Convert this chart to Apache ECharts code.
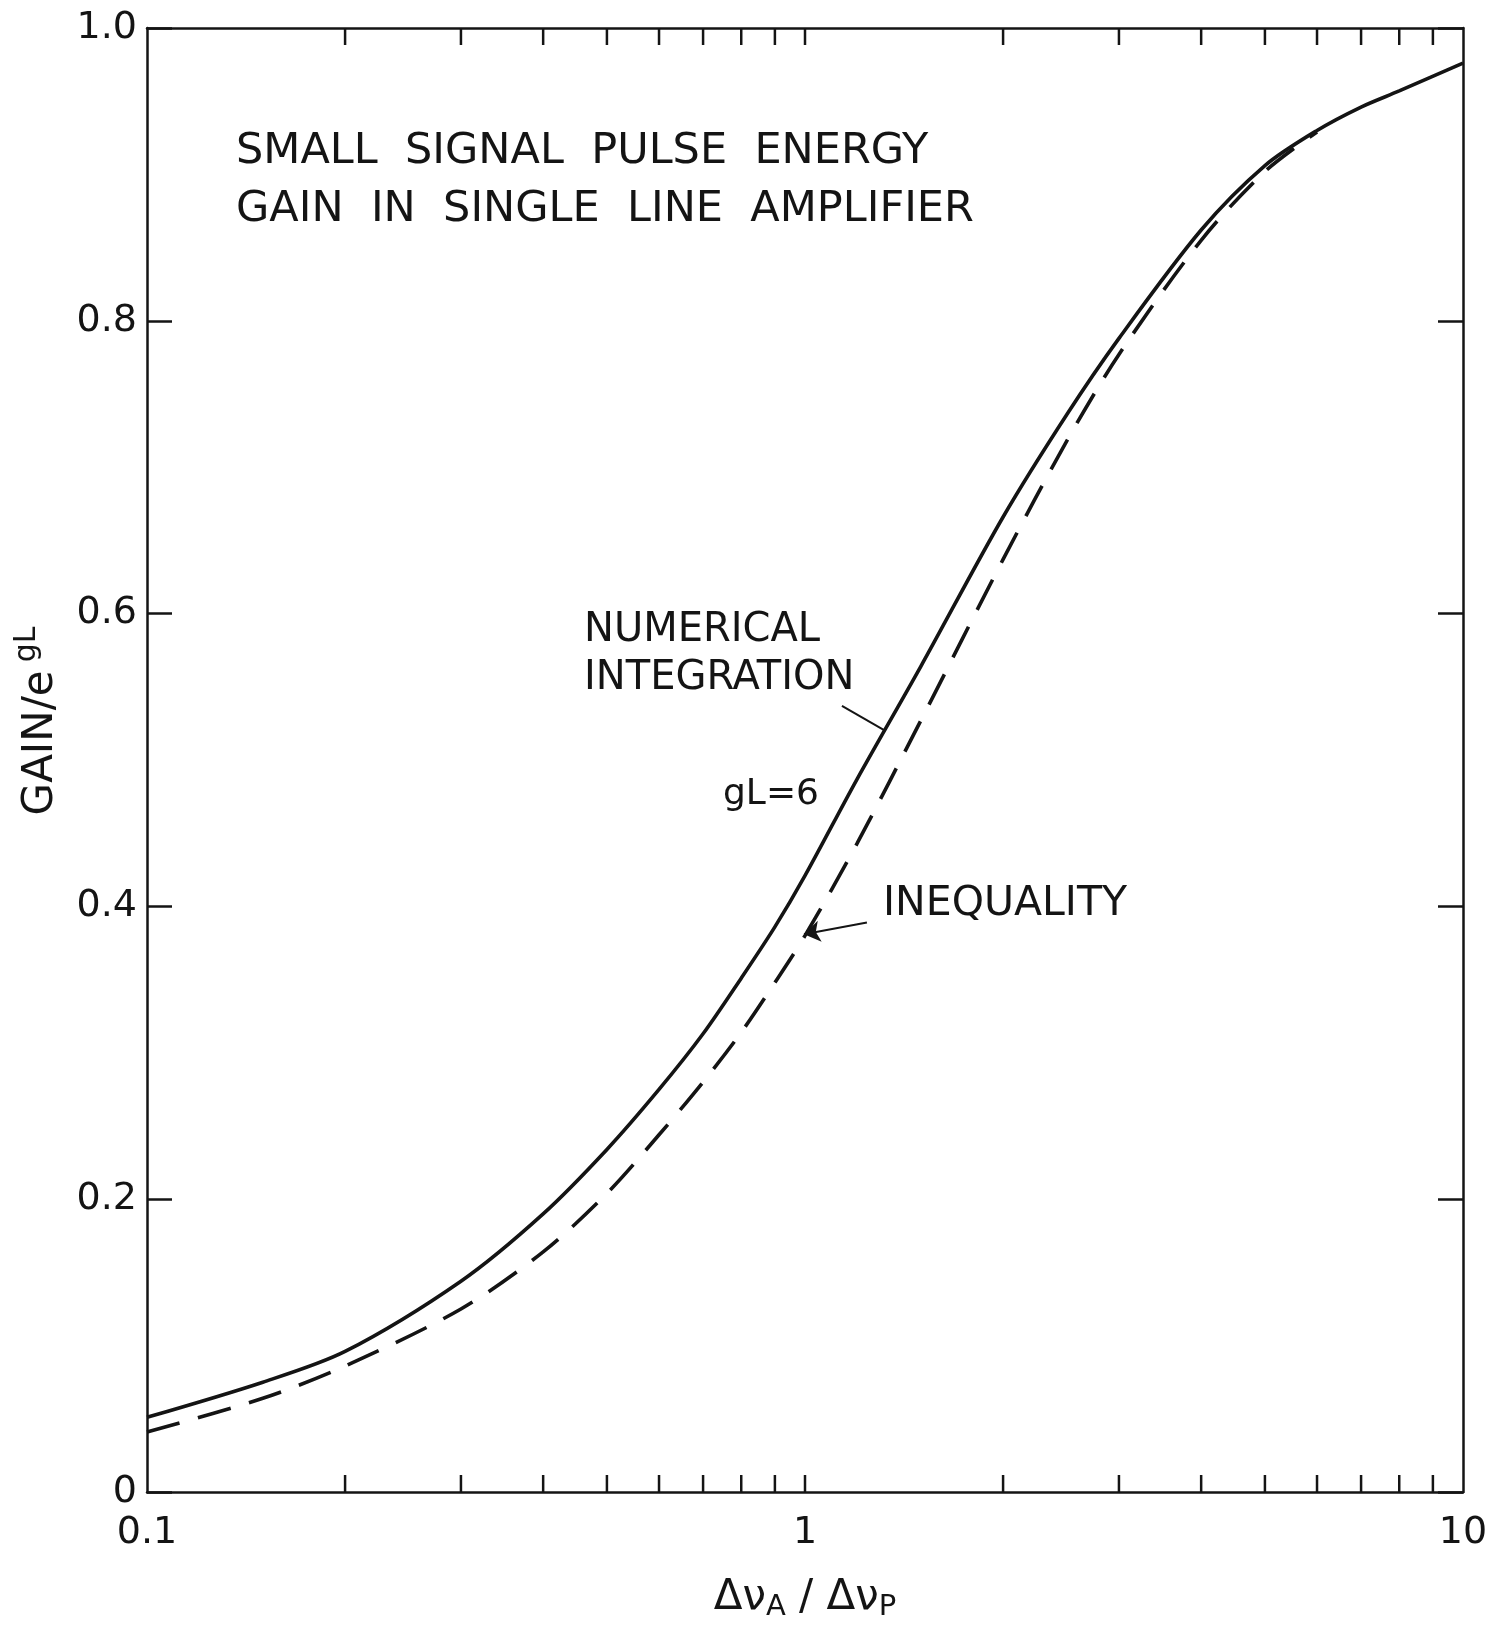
<!DOCTYPE html>
<html>
<head>
<meta charset="utf-8">
<script src="https://cdn.jsdelivr.net/npm/echarts@6/dist/echarts.min.js"></script>
<style>
  html, body { margin: 0; padding: 0; background: #ffffff; }
  #chart { width: 1495px; height: 1626px; }
</style>
</head>
<body>
<div id="chart"></div>
<script>
// Bandwidth ratio Δν_A/Δν_P (log scale)
const ratioX = [0.1, 0.15, 0.2, 0.3, 0.4, 0.5, 0.6, 0.7, 0.8, 0.9, 1.0, 1.2, 1.5, 2.0, 2.5, 3.0, 4.0, 5.0, 6.0, 7.0, 8.0, 10.0];
// GAIN / e^gL from numerical integration, gL = 6
const numericalGain = [0.051, 0.075, 0.096, 0.144, 0.190, 0.234, 0.275, 0.313, 0.351, 0.386, 0.421, 0.487, 0.564, 0.666, 0.736, 0.788, 0.862, 0.906, 0.930, 0.946, 0.957, 0.976];
// GAIN / e^gL from the inequality bound
const inequalityX = [0.1, 0.15, 0.2, 0.3, 0.4, 0.5, 0.6, 0.7, 0.8, 0.9, 1.0, 1.2, 1.5, 2.0, 2.5, 3.0, 4.0, 5.0, 6.0];
const inequalityGain = [0.041, 0.064, 0.086, 0.125, 0.164, 0.204, 0.244, 0.280, 0.314, 0.348, 0.380, 0.443, 0.527, 0.637, 0.718, 0.777, 0.855, 0.902, 0.929];

// Axis ticks and labels
const xMajorTicks = [0.1, 1, 10];
const xMinorTicks = [0.2, 0.3, 0.4, 0.5, 0.6, 0.7, 0.8, 0.9, 1, 2, 3, 4, 5, 6, 7, 8, 9];
const yTicks = [0, 0.2, 0.4, 0.6, 0.8, 1.0];
const yTickLabels = ['0', '0.2', '0.4', '0.6', '0.8', '1.0'];

// Leader lines for the curve annotations, in data coordinates
const numericalLeader = [[1.138, 0.537], [1.323, 0.520]];
const inequalityLeader = [[1.242, 0.389], [0.9965, 0.381]];

const INK = '#141414';
const FONT = '"DejaVu Sans", "Liberation Sans", sans-serif';

const chart = echarts.init(document.getElementById('chart'), null, { renderer: 'canvas' });

const pair = (xs, ys) => xs.map((x, i) => [x, ys[i]]);

const option = {
  backgroundColor: '#ffffff',
  animation: false,
  grid: { left: 147, right: 32, top: 28, bottom: 134, containLabel: false, outerBoundsMode: 'none' },
  xAxis: [
    {
      type: 'log', logBase: 10, min: 0.1, max: 10, position: 'bottom',
      axisLine: { show: true, onZero: false, lineStyle: { color: INK, width: 2.5 } },
      axisTick: { show: false },
      splitLine: { show: false },
      minorTick: { show: false },
      axisLabel: {
        show: true, margin: 22, color: INK, fontFamily: FONT, fontSize: 38,
        formatter: (v) => {
          const i = xMajorTicks.findIndex(t => Math.abs(t - v) < 1e-9);
          return i >= 0 ? String(xMajorTicks[i]) : '';
        }
      },
      name: '{a|Δν}{s|A}{a| / Δν}{s|P}',
      nameLocation: 'middle',
      nameGap: 82,
      nameTextStyle: {
        color: INK, fontFamily: FONT, fontSize: 42,
        rich: {
          a: { fontFamily: FONT, fontSize: 42, color: INK },
          s: { fontFamily: FONT, fontSize: 29, color: INK, padding: [19, 0, 0, 0] }
        }
      }
    },
    {
      type: 'log', logBase: 10, min: 0.1, max: 10, position: 'top',
      axisLine: { show: true, onZero: false, lineStyle: { color: INK, width: 2.5 } },
      axisTick: { show: false },
      axisLabel: { show: false },
      splitLine: { show: false }
    }
  ],
  yAxis: [
    {
      type: 'value', min: 0, max: 1, interval: 0.2, position: 'left',
      axisLine: { show: true, onZero: false, lineStyle: { color: INK, width: 2.5 } },
      axisTick: { show: true, inside: true, length: 25, lineStyle: { color: INK, width: 2.5 } },
      splitLine: { show: false },
      axisLabel: {
        show: true, margin: 10, color: INK, fontFamily: FONT, fontSize: 38,
        formatter: (v) => {
          const i = yTicks.findIndex(t => Math.abs(t - v) < 1e-9);
          return i >= 0 ? yTickLabels[i] : '';
        }
      }
    },
    {
      type: 'value', min: 0, max: 1, interval: 0.2, position: 'right',
      axisLine: { show: true, onZero: false, lineStyle: { color: INK, width: 2.5 } },
      axisTick: { show: true, inside: true, length: 25, lineStyle: { color: INK, width: 2.5 } },
      axisLabel: { show: false },
      splitLine: { show: false }
    }
  ],
  series: [
    {
      name: 'NUMERICAL INTEGRATION',
      type: 'line',
      xAxisIndex: 0, yAxisIndex: 0,
      data: pair(ratioX, numericalGain),
      smooth: 0.3,
      symbol: 'none',
      lineStyle: { color: INK, width: 3.6 },
      z: 5
    },
    {
      name: 'INEQUALITY',
      type: 'line',
      xAxisIndex: 0, yAxisIndex: 0,
      data: pair(inequalityX, inequalityGain),
      smooth: 0.3,
      symbol: 'none',
      lineStyle: { color: INK, width: 3.6, type: [34, 19], cap: 'butt' },
      z: 4
    },
    {
      name: 'numerical-leader',
      type: 'line',
      data: numericalLeader,
      symbol: 'none',
      lineStyle: { color: INK, width: 2 },
      silent: true
    },
    {
      name: 'inequality-leader',
      type: 'lines',
      coordinateSystem: 'cartesian2d',
      data: [{ coords: inequalityLeader }],
      symbol: ['none', 'arrow'],
      symbolSize: [0, 16],
      lineStyle: { color: INK, width: 2, opacity: 1 },
      silent: true
    },
    {
      // tick marks along the log axis, bottom edge and top edge
      name: 'x-ticks',
      type: 'custom',
      xAxisIndex: 0, yAxisIndex: 0,
      data: xMinorTicks.map(v => [v, 0]),
      silent: true,
      renderItem: (params, api) => {
        const x = api.coord([api.value(0), 0])[0];
        const cs = params.coordSys;
        const yb = cs.y + cs.height;
        const yt = cs.y;
        const st = { stroke: INK, lineWidth: 2.5 };
        return {
          type: 'group',
          children: [
            { type: 'line', shape: { x1: x, y1: yb, x2: x, y2: yb - 17 }, style: st },
            { type: 'line', shape: { x1: x, y1: yt, x2: x, y2: yt + 17 }, style: st }
          ]
        };
      }
    }
  ],
  graphic: [
    {
      type: 'text', x: 37, y: 721, rotation: Math.PI / 2,
      style: {
        text: '{a|GAIN/e}{s|gL}',
        font: '42px ' + FONT,
        align: 'center', verticalAlign: 'middle',
        textAlign: 'center', textVerticalAlign: 'middle',
        fill: INK,
        rich: {
          a: { font: '42px ' + FONT, fontFamily: FONT, fontSize: 42, lineHeight: 50, verticalAlign: 'bottom', fill: INK },
          s: { font: '30px ' + FONT, fontFamily: FONT, fontSize: 30, verticalAlign: 'top', padding: [0, 0, 0, 8], fill: INK }
        }
      }
    },
    { type: 'text', left: 236, top: 130, style: { text: 'SMALL  SIGNAL  PULSE  ENERGY', fill: INK, font: '43px ' + FONT } },
    { type: 'text', left: 236, top: 188, style: { text: 'GAIN  IN  SINGLE  LINE  AMPLIFIER', fill: INK, font: '43px ' + FONT } },
    { type: 'text', left: 584, top: 611, style: { text: 'NUMERICAL', fill: INK, font: '40px ' + FONT } },
    { type: 'text', left: 584, top: 659, style: { text: 'INTEGRATION', fill: INK, font: '40px ' + FONT } },
    { type: 'text', left: 723, top: 777, style: { text: 'gL=6', fill: INK, font: '36px ' + FONT } },
    { type: 'text', left: 883, top: 884, style: { text: 'INEQUALITY', fill: INK, font: '41px ' + FONT } }
  ]
};

chart.setOption(option);
</script>
</body>
</html>
